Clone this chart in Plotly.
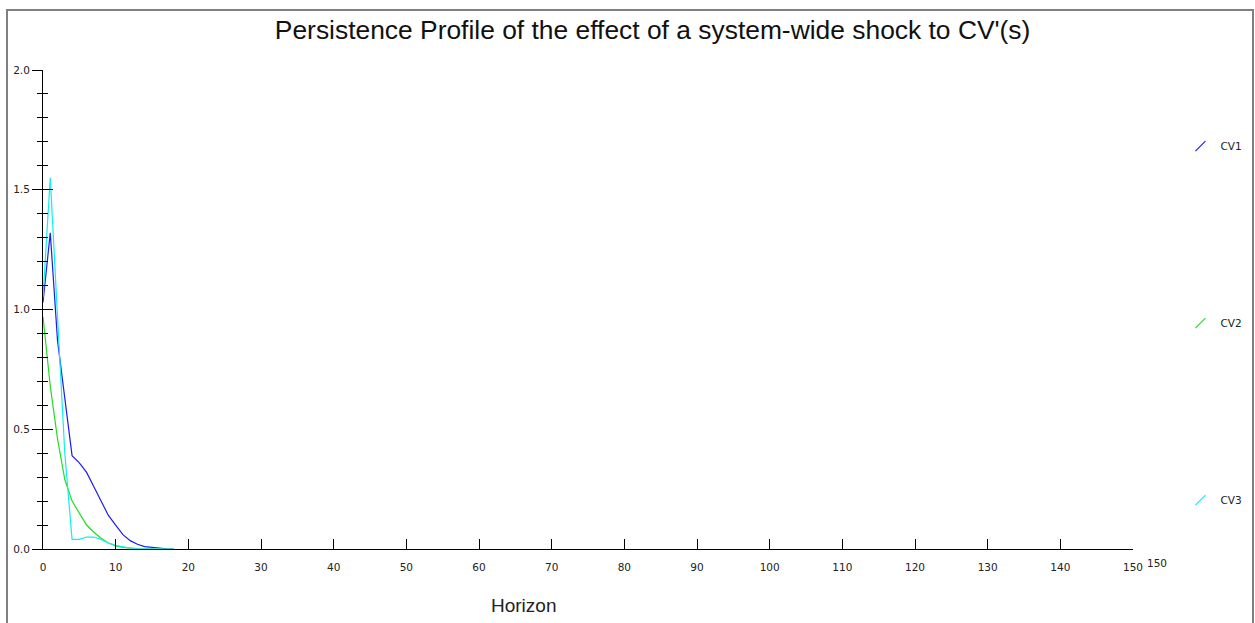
import plotly.graph_objects as go

horizon = list(range(0, 19))
cv1 = [1.03, 1.32, 0.87, 0.63, 0.39, 0.36, 0.32, 0.26, 0.20, 0.14, 0.10, 0.06, 0.035, 0.02, 0.01, 0.006, 0.003, 0.001, 0.0]
cv2 = [0.97, 0.68, 0.46, 0.29, 0.20, 0.15, 0.10, 0.07, 0.045, 0.025, 0.013, 0.007, 0.003, 0.001, 0.0, 0.0, 0.0, 0.0, 0.0]
cv3 = [1.05, 1.55, 0.97, 0.40, 0.04, 0.04, 0.05, 0.05, 0.04, 0.025, 0.015, 0.008, 0.004, 0.002, 0.001, 0.0, 0.0, 0.0, 0.0]

series_names = ["CV1", "CV2", "CV3"]
series_values = [cv1, cv2, cv3]
colors = ["#1c1cf0", "#22dd22", "#11eeee"]

x_ticks = list(range(0, 151, 10))
title_text = "Persistence Profile of the effect of a system-wide shock to CV'(s)"

small_font = dict(family="DejaVu Sans", size=10.5, color="#222222")

fig = go.Figure()
for name, vals, col in zip(series_names, series_values, colors):
    fig.add_trace(go.Scatter(x=horizon, y=vals, mode="lines", line=dict(color=col, width=1.2),
                             showlegend=False, hoverinfo="skip"))
for i, (name, col) in enumerate(zip(series_names, colors)):
    fig.add_trace(go.Scatter(x=[None], y=[None], mode="markers", name=name, legendgroup=f"g{i}",
                             marker=dict(symbol="line-ne", size=10, color=col,
                                         line=dict(color=col, width=1.2))))
# overlay axis for the inward half of the cross ticks
fig.add_trace(go.Scatter(x=[None], y=[None], yaxis="y2", showlegend=False, hoverinfo="skip"))

fig.update_layout(
    width=1255, height=623,
    margin=dict(l=43, r=122, t=70, b=74, autoexpand=False),
    paper_bgcolor="white", plot_bgcolor="white",
    title=dict(text=title_text, x=0.52, xanchor="center", y=0.9525, yanchor="middle",
               font=dict(family="Liberation Sans", size=26.4, color="#111111")),
    xaxis=dict(range=[0, 150], tickmode="array", tickvals=x_ticks, ticktext=[str(v) for v in x_ticks],
               ticks="inside", ticklen=10, tickcolor="black", tickwidth=1, ticklabelstandoff=8,
               showline=True, linecolor="black", linewidth=1, showgrid=False, zeroline=False,
               tickfont=small_font, automargin=False),
    yaxis=dict(range=[0, 2], tick0=0, dtick=0.5, tickformat=".1f",
               ticks="outside", ticklen=10, tickcolor="black", tickwidth=1,
               minor=dict(dtick=0.1, ticks="outside", ticklen=5, tickcolor="black", tickwidth=1, showgrid=False),
               showline=True, linecolor="black", linewidth=1, showgrid=False, zeroline=False,
               tickfont=small_font, automargin=False),
    yaxis2=dict(range=[0, 2], tick0=0, dtick=0.5, overlaying="y", side="left", anchor="x",
                ticks="inside", ticklen=10, tickcolor="black", tickwidth=1,
                minor=dict(dtick=0.1, ticks="inside", ticklen=5, tickcolor="black", tickwidth=1, showgrid=False),
                showticklabels=False, showline=False, showgrid=False, zeroline=False),
    legend=dict(x=1.0435, xanchor="left", y=0.8715, yanchor="top", tracegroupgap=158,
                font=small_font, bgcolor="rgba(0,0,0,0)", borderwidth=0),
    showlegend=True,
)

fig.add_annotation(text="Horizon", x=(523 - 43) / 1090, xref="paper", y=(549 - 605) / 479, yref="paper",
                   xanchor="center", yanchor="middle", showarrow=False,
                   font=dict(family="Liberation Sans", size=19, color="#222222"))
fig.add_annotation(text=str(x_ticks[-1]), x=x_ticks[-1], xref="x", y=0, yref="y",
                   xshift=24, yshift=-14, xanchor="center", yanchor="middle", showarrow=False,
                   font=small_font)

fig.add_shape(type="rect", xref="paper", yref="paper",
              x0=(7 - 43) / 1090, x1=(1253 - 43) / 1090, y0=-0.2, y1=(549 - 10) / 479,
              line=dict(color="#808080", width=2), fillcolor="rgba(0,0,0,0)", layer="below")

fig.write_html("out.html")
